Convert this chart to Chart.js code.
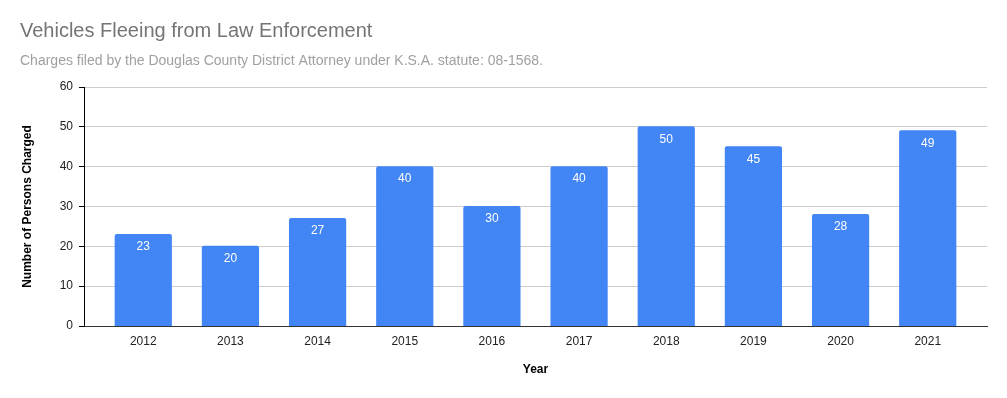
<!DOCTYPE html>
<html>
<head>
<meta charset="utf-8">
<script src="https://cdn.jsdelivr.net/npm/chart.js@4/dist/chart.umd.min.js"></script>
<style>
  html, body { margin: 0; padding: 0; background: #fff; }
  #wrap { width: 1007px; height: 398px; position: relative; }
</style>
</head>
<body>
<div id="wrap"><canvas id="chart"></canvas></div>
<script>
const years = [2012, 2013, 2014, 2015, 2016, 2017, 2018, 2019, 2020, 2021];
const charged = [23, 20, 27, 40, 30, 40, 50, 45, 28, 49];
const yTicks = [0, 10, 20, 30, 40, 50, 60];

const FONT = '"Liberation Sans", Arial, sans-serif';

// white value labels just inside the top of each bar
const barLabels = {
    id: 'barLabels',
    afterDatasetsDraw(chart) {
        const ctx = chart.ctx;
        const meta = chart.getDatasetMeta(0);
        ctx.save();
        ctx.fillStyle = '#ffffff';
        ctx.font = '12px ' + FONT;
        ctx.textAlign = 'center';
        ctx.textBaseline = 'middle';
        meta.data.forEach((bar, i) => {
            ctx.fillText(String(charged[i]), bar.x, bar.y + 12.5);
        });
        ctx.restore();
    }
};

new Chart(document.getElementById('chart'), {
    type: 'bar',
    data: {
        datasets: [{
            data: years.map((y, i) => ({ x: y, y: charged[i] })),
            backgroundColor: '#4285f4',
            borderWidth: 0,
            borderRadius: { topLeft: 2, topRight: 2, bottomLeft: 0, bottomRight: 0 },
            borderSkipped: false,
            inflateAmount: 0.5,
            barPercentage: 0.645,
            categoryPercentage: 1
        }]
    },
    options: {
        responsive: true,
        maintainAspectRatio: false,
        animation: false,
        layout: { padding: { left: 20, right: 20, top: 0, bottom: 0 } },
        plugins: {
            legend: { display: false },
            tooltip: { enabled: false },
            title: {
                display: true,
                text: 'Vehicles Fleeing from Law Enforcement',
                align: 'start',
                color: '#757575',
                font: { family: FONT, size: 20, weight: 'normal' },
                padding: { top: 19, bottom: 5 }
            },
            subtitle: {
                display: true,
                text: 'Charges filed by the Douglas County District Attorney under K.S.A. statute: 08-1568.',
                align: 'start',
                color: '#a0a0a0',
                font: { family: FONT, size: 14 },
                padding: { top: 5, bottom: 17.2 }
            }
        },
        scales: {
            x: {
                type: 'linear',
                offset: false,
                min: years[0] - 0.68,
                max: years[years.length - 1] + 0.68,
                afterBuildTicks: (scale) => {
                    scale.ticks = years.map(v => ({ value: v }));
                },
                afterFit: (scale) => { scale.height = 72; },
                grid: { display: false, drawTicks: false },
                border: { display: true, color: '#333333', width: 1 },
                ticks: {
                    autoSkip: false,
                    color: '#222222',
                    font: { family: FONT, size: 12 },
                    padding: 8,
                    callback: (v) => String(v)
                },
                title: {
                    display: true,
                    text: 'Year',
                    color: '#000000',
                    font: { family: FONT, size: 12, weight: 'bold' },
                    padding: { top: 0, bottom: 21 }
                }
            },
            y: {
                min: 0,
                max: 60,
                afterBuildTicks: (scale) => {
                    scale.ticks = yTicks.map(v => ({ value: v }));
                },
                afterFit: (scale) => { scale.width = 64; },
                grid: {
                    color: '#cccccc',
                    tickColor: '#000000',
                    tickLength: 5,
                    drawTicks: true
                },
                border: { display: true, color: '#000000', width: 1 },
                ticks: {
                    color: '#222222',
                    font: { family: FONT, size: 12 },
                    padding: 6
                },
                title: {
                    display: true,
                    text: 'Number of Persons Charged',
                    color: '#000000',
                    font: { family: FONT, size: 12, weight: 'bold' },
                    padding: { top: 0, bottom: 0 }
                }
            }
        }
    },
    plugins: [barLabels]
});
</script>
</body>
</html>
